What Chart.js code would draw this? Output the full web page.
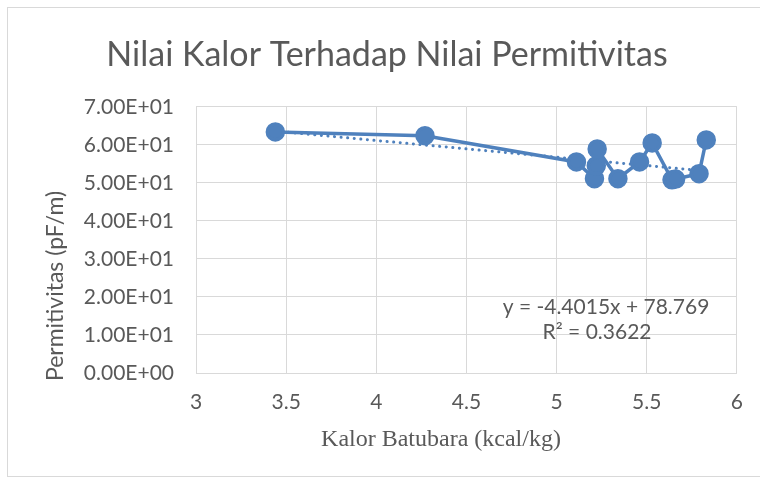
<!DOCTYPE html>
<html>
<head>
<meta charset="utf-8">
<script src="https://cdn.jsdelivr.net/npm/chart.js@4.4.0/dist/chart.umd.min.js"></script>
<style>
  body { margin: 0; background: #fff; }
  #frame { position: absolute; left: 7px; top: 7px; width: 760px; height: 470px; border: 1px solid #d9d9d9; box-sizing: border-box; }
  #wrap { position: absolute; left: 0; top: 0; width: 760px; height: 481px; }
</style>
</head>
<body>
<div id="frame"></div>
<div id="wrap"><canvas id="kalor-chart" width="760" height="481"></canvas></div>
<script>
// kalor (x) vs permitivitas (y)
const kalor = [3.44, 4.27, 5.11, 5.21, 5.22, 5.225, 5.34, 5.46, 5.53, 5.64, 5.66, 5.79, 5.83];
const permitivitas = [63.4, 62.4, 55.5, 51.1, 54.5, 58.9, 51.1, 55.5, 60.5, 50.8, 51.0, 52.4, 61.3];
// trendline end points
const trendX = [3.44, 5.83];
const trendY = [63.6, 53.1];
const xTicks = [3, 3.5, 4, 4.5, 5, 5.5, 6];
const yTicks = [0, 10, 20, 30, 40, 50, 60, 70];
const equationText = ['y = -4.4015x + 78.769', 'R\u00b2 = 0.3622'];
const xTitle = 'Kalor Batubara (kcal/kg)';
const yTitle = 'Permitivitas (pF/m)';

const blue = '#4f81bd';
const grey = '#595959';
const gridColor = '#d9d9d9';

function sci(v){
    if (v === 0) return '0.00E+00';
    let e = Math.floor(Math.log10(Math.abs(v)));
    let m = v / Math.pow(10, e);
    let es = (e < 0 ? '-' : '+') + String(Math.abs(e)).padStart(2, '0');
    return m.toFixed(2) + 'E' + es;
}

// trendline label + axis titles (excel puts them a bit off-centre)
const labelsPlugin = {
    id: 'labels',
    afterDatasetsDraw(chart){
        const ctx = chart.ctx;
        const area = chart.chartArea;
        const x = chart.scales.x.getPixelForValue(5.274);
        const y = chart.scales.y.getPixelForValue(17.4);
        ctx.save();
        ctx.fillStyle = grey;
        ctx.textAlign = 'center';
        ctx.textBaseline = 'middle';
        ctx.font = '21px Lato';
        ctx.fillText(equationText[0], x, y);
        ctx.fillText(equationText[1], x - 9, y + 25);

        ctx.font = '24px "Liberation Serif"';
        ctx.fillText(xTitle, area.left + 245, area.bottom + 67);

        ctx.font = '23px Lato';
        ctx.translate(56, area.bottom - 87);
        ctx.rotate(-Math.PI / 2);
        ctx.fillText(yTitle, 0, 0);
        ctx.restore();
    }
};

window.onload = () => {
    const context = document.getElementById('kalor-chart').getContext('2d');
    const points = kalor.map((k, i) => ({x: k, y: permitivitas[i]}));
    const trend = trendX.map((k, i) => ({x: k, y: trendY[i]}));
    new Chart(context, {
        type: 'scatter',
        data: {
            datasets: [{
                data: points,
                showLine: true,
                borderColor: blue,
                backgroundColor: blue,
                borderWidth: 3.5,
                pointRadius: 8,
                pointHoverRadius: 8,
                order: 1
            }, {
                data: trend,
                showLine: true,
                borderColor: blue,
                borderWidth: 3,
                borderDash: [0.1, 6.5],
                borderCapStyle: 'round',
                pointRadius: 0,
                order: 2
            }]
        },
        options: {
            responsive: false,
            animation: false,
            layout: { padding: { left: 36, right: 22, top: 14, bottom: 8 } },
            plugins: {
                legend: { display: false },
                tooltip: { enabled: false },
                title: {
                    display: true,
                    text: 'Nilai Kalor Terhadap Nilai Permitivitas',
                    color: grey,
                    font: { family: 'Lato', size: 34, weight: 'normal' },
                    padding: { top: 21, bottom: 31 }
                }
            },
            scales: {
                x: {
                    type: 'linear',
                    min: 3,
                    max: 6,
                    afterBuildTicks: (s) => { s.ticks = xTicks.map(v => ({value: v})); },
                    afterFit: (s) => { s.height = 100; },
                    grid: { color: gridColor, drawTicks: false },
                    border: { color: gridColor },
                    ticks: { color: grey, font: { family: 'Lato', size: 21 }, padding: 17, callback: (v) => String(v) }
                },
                y: {
                    min: 0,
                    max: 70,
                    afterBuildTicks: (s) => { s.ticks = yTicks.map(v => ({value: v})); },
                    afterFit: (s) => { s.width = 160; },
                    grid: { color: gridColor, drawTicks: false },
                    border: { display: false },
                    ticks: { color: grey, font: { family: 'Lato', size: 21 }, padding: 22, callback: (v) => sci(v) }
                }
            }
        },
        plugins: [labelsPlugin]
    });
};
</script>
</body>
</html>
